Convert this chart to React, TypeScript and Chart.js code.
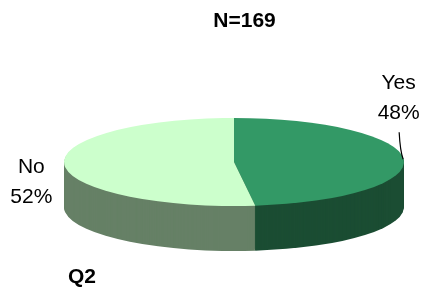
import React, { useEffect, useRef } from "react";
import { Chart, registerables } from "chart.js";

Chart.register(...registerables);

// ---- data ----
const categories = ["Yes", "No"];
const percentValues = [48, 52];
const chartTitle = "N=169";
const questionLabel = "Q2";

// ---- styles ----
const topColors = ["#339966", "#CCFFCC"];
const sideColors = ["#1B4D33", "#668066"];

// ---- layout (3D projection of the pie) ----
const LAYOUT = {
  cx: 234,
  cy: 162,
  rx: 170,
  ry: 44,
  depth: 45,
  titleX: 244.5,
  titleY: 27,
  qX: 82,
  qY: 283,
};
// label offsets relative to the slice's mid-angle point on the rim
const labelOffsets = [
  { dx: -5, dy1: -70, dy2: -40, leader: true },
  { dx: -33, dy1: 8, dy2: 38, leader: false },
];

const FONT = "'Liberation Sans', Arial, sans-serif";

const pie3d = {
  id: "pie3d",
  beforeDatasetsDraw(chart: any) {
    const ctx = chart.ctx;
    const arcs = chart.getDatasetMeta(0).data;
    if (!arcs.length) return false;
    const a0 = arcs[0];
    const R = a0.outerRadius;
    const x0 = a0.x;
    const y0 = a0.y;
    const { cx, cy, rx, ry, depth } = LAYOUT;
    for (let k = depth; k >= 0; k--) {
      ctx.save();
      ctx.translate(cx, cy + k);
      ctx.scale(rx / R, ry / R);
      ctx.translate(-x0, -y0);
      arcs.forEach((el: any, i: number) => {
        const orig = el.options;
        const col = k === 0 ? topColors[i] : sideColors[i];
        el.options = Object.assign({}, orig, {
          backgroundColor: col,
          borderColor: col,
          borderWidth: 0,
        });
        el.draw(ctx);
        el.options = orig;
      });
      ctx.restore();
    }
    return false;
  },
  afterDraw(chart: any) {
    const ctx = chart.ctx;
    const arcs = chart.getDatasetMeta(0).data;
    const { cx, cy, rx, ry } = LAYOUT;
    ctx.save();
    ctx.fillStyle = "#000";
    ctx.textAlign = "center";
    ctx.textBaseline = "alphabetic";
    arcs.forEach((el: any, i: number) => {
      const mid = (el.startAngle + el.endAngle) / 2;
      const px = cx + rx * Math.cos(mid);
      const py = cy + ry * Math.sin(mid);
      const off = labelOffsets[i];
      const total = percentValues.reduce((a, b) => a + b, 0);
      const pct = Math.round((percentValues[i] / total) * 100) + "%";
      ctx.font = `21px ${FONT}`;
      ctx.fillText(categories[i], px + off.dx, py + off.dy1);
      ctx.fillText(pct, px + off.dx, py + off.dy2);
      if (off.leader) {
        ctx.beginPath();
        ctx.strokeStyle = "#000";
        ctx.lineWidth = 1.2;
        ctx.moveTo(px - 4.5, py - 27);
        ctx.quadraticCurveTo(px - 3.5, py - 8, px - 0.5, py);
        ctx.stroke();
      }
    });
    ctx.font = `bold 21px ${FONT}`;
    ctx.fillText(chartTitle, LAYOUT.titleX, LAYOUT.titleY);
    ctx.fillText(questionLabel, LAYOUT.qX, LAYOUT.qY);
    ctx.restore();
  },
};

export default function App() {
  const ref = useRef<HTMLCanvasElement | null>(null);
  useEffect(() => {
    document.body.style.margin = "0";
    document.body.style.background = "#fff";
    if (!ref.current) return;
    const chart = new Chart(ref.current, {
      type: "pie",
      data: {
        labels: categories,
        datasets: [
          {
            data: percentValues,
            backgroundColor: topColors,
            borderWidth: 0,
          },
        ],
      },
      options: {
        animation: false,
        responsive: false,
        devicePixelRatio: 1,
        plugins: {
          legend: { display: false },
          tooltip: { enabled: false },
          title: { display: false },
        },
        events: [],
      },
      plugins: [pie3d],
    } as any);
    return () => chart.destroy();
  }, []);
  return (
    <div style={{ width: 422, height: 287, background: "#fff" }}>
      <canvas ref={ref} width={422} height={287} style={{ display: "block" }} />
    </div>
  );
}
